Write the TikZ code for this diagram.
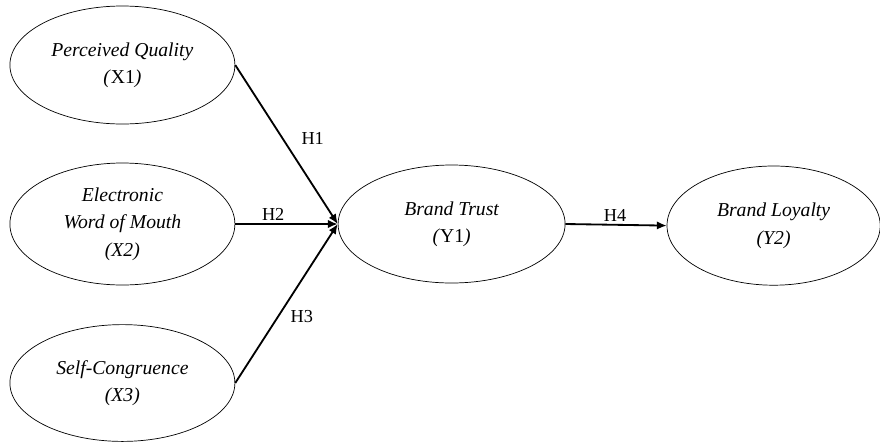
\documentclass[tikz,border=0pt]{standalone}
\usepackage{fontspec}
\setmainfont{Liberation Serif}
\usepackage{tikz}
\usetikzlibrary{arrows.meta,positioning,shapes.geometric}

\begin{document}
\begin{tikzpicture}[
    font=\fontsize{14}{19.5}\selectfont\itshape,
    >={Latex[length=7pt,width=6pt]},
    arrow/.style={->, line width=1.3pt},
    construct/.style={draw, ellipse, line width=0.5pt, inner sep=0pt,
                      minimum width=5.625cm, minimum height=2.95cm, align=center},
    hyp/.style={font=\fontsize{13}{15}\selectfont\upshape, inner sep=1pt},
]
\useasboundingbox (0,0) rectangle (22,-11.075);

%% ── exogenous constructs ──────────────────────────────────────
\node[construct] (pq)  at (3.06,-1.625) {Perceived Quality\\(\textup{X1})};
\node[construct, minimum height=3.05cm]
                 (ewom) at (3.06,-5.6)  {Electronic\\Word of Mouth\\(X2)};
\node[construct, minimum height=2.92cm]
                 (sc)  at (3.06,-9.575) {Self-Congruence\\(X3)};

%% ── endogenous constructs ─────────────────────────────────────
\node[construct, minimum width=5.675cm] (bt) at (11.29,-5.6) {Brand Trust\\(\textup{Y1})};
\node[construct, minimum width=5.33cm, minimum height=2.98cm]
                 (bl)  at (19.34,-5.64) {Brand Loyalty\\(Y2)};

%% ── hypotheses ────────────────────────────────────────────────
\draw[arrow] (pq.east)   -- node[hyp, pos=0.46, right=0.42cm] {H1} (bt.west);
\draw[arrow] (ewom.east) -- node[hyp, pos=0.37, above=1pt]    {H2} (bt.west);
\draw[arrow] (sc.east)   -- node[hyp, pos=0.42, right=0.25cm] {H3} (bt.west);
\draw[arrow] (bt.east)   -- node[hyp, pos=0.49, above=1pt]    {H4} (bl.west);

\end{tikzpicture}
\end{document}
